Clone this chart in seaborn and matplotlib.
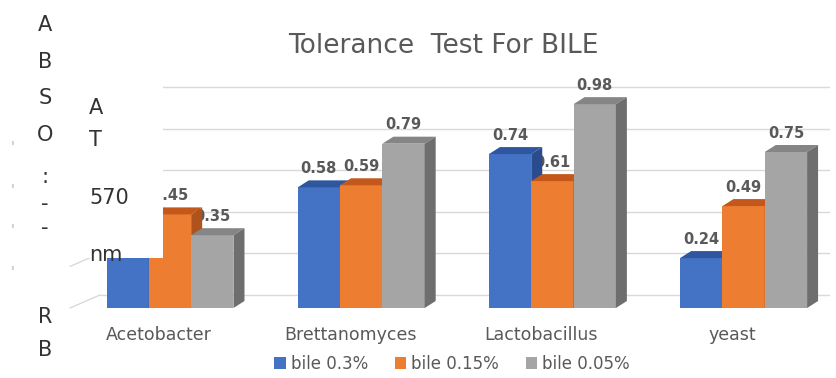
import matplotlib
matplotlib.use("Agg")
import matplotlib.pyplot as plt
import pandas as pd
import seaborn as sns
from matplotlib.patches import Polygon, Rectangle, Patch
from matplotlib.transforms import ScaledTranslation


ORGANISMS = ["Acetobacter", "Brettanomyces", "Lactobacillus", "yeast"]
SERIES = ["bile 0.3%", "bile 0.15%", "bile 0.05%"]
BILE_03 = [0.24, 0.58, 0.74, 0.24]
BILE_015 = [0.45, 0.59, 0.61, 0.49]
BILE_005 = [0.35, 0.79, 0.98, 0.75]
GRID_VALUES = [0.0, 0.2, 0.4, 0.6, 0.8, 1.0]

TITLE = "Tolerance  Test For BILE"
LEFT_LETTERS = ["A", "B", "S", "O", ":", "-", "-", "R", "B"]
UNIT_LINES = ["A", "T", "570", "nm"]

FRONT = ["#4472C4", "#ED7D31", "#A5A5A5"]
TOP = ["#2F579F", "#C4581A", "#858585"]
SIDE = ["#2A4C8E", "#B0521C", "#6E6E6E"]
TEXT = "#595959"

# figure geometry in pixels (837 x 378)
W, H = 837, 378
AX_L, AX_R, AX_B = 100, 830, 308
PX_PER_UNIT_Y = 208
YMAX = 1.1
GROUP_PX = 191.2
FIRST_GROUP_PX = 170
DEPTH_X, DEPTH_Y = 11, 7      # 3d bar depth
WALL_Y = 13                    # back wall lift

df = pd.DataFrame({
    "organism": ORGANISMS * 3,
    "series": [s for s in SERIES for _ in ORGANISMS],
    "value": BILE_03 + BILE_015 + BILE_005,
})

sns.set_style("white")
fig = plt.figure(figsize=(W / 100, H / 100), dpi=100)
ax_h = YMAX * PX_PER_UNIT_Y
ax = fig.add_axes([AX_L / W, (H - AX_B) / H, (AX_R - AX_L) / W, ax_h / H])

sns.barplot(
    data=df, x="organism", y="value", hue="series", order=ORGANISMS,
    hue_order=SERIES, palette=FRONT, saturation=1, width=0.664, gap=0,
    edgecolor="none", linewidth=0, legend=False, ax=ax,
)

x0 = -(FIRST_GROUP_PX - AX_L) / GROUP_PX
x1 = x0 + (AX_R - AX_L) / GROUP_PX
ax.set_xlim(x0, x1)
ax.set_ylim(0, YMAX)
px_x = (x1 - x0) / (AX_R - AX_L)
px_y = YMAX / ax_h

# back wall gridlines + left wall floor lines
for v in GRID_VALUES:
    ax.plot([x0, x1], [v + WALL_Y * px_y] * 2, color="#D9D9D9", lw=1, zorder=0.5)
    ax.plot([x0 - 30 * px_x, x0], [v, v + WALL_Y * px_y], color="#D9D9D9",
            lw=1, zorder=0.5, clip_on=False)

# 3d faces and value labels
for k, (cont, top_c, side_c) in enumerate(zip(ax.containers, TOP, SIDE)):
    for bar in cont:
        x, w, h = bar.get_x(), bar.get_width(), bar.get_height()
        z = 3 + k * 0.1
        bar.set_zorder(z)
        dx, dy = DEPTH_X * px_x, DEPTH_Y * px_y
        ax.add_patch(Polygon([(x, h), (x + w, h), (x + w + dx, h + dy), (x + dx, h + dy)],
                             closed=True, color=top_c, lw=0, zorder=z + 0.01))
        ax.add_patch(Polygon([(x + w, 0), (x + w, h), (x + w + dx, h + dy), (x + w + dx, dy)],
                             closed=True, color=side_c, lw=0, zorder=z + 0.01))
        ax.text(x + w / 2, h + 19 * px_y, f"{h:.2f}", ha="center", va="center",
                fontsize=10.5, fontweight="bold", color=TEXT, zorder=2)

sns.despine(ax=ax, left=True, bottom=True)
ax.set_xlabel("")
ax.set_ylabel("")
ax.set_yticks([])
ax.tick_params(axis="x", length=0, pad=13, labelsize=12.5, labelcolor=TEXT)
shift = ScaledTranslation(-11 / 100, 0, fig.dpi_scale_trans)
for lab in ax.get_xticklabels():
    lab.set_transform(lab.get_transform() + shift)

fig.text(443 / W, 1 - 46 / H, TITLE, ha="center", va="center", fontsize=19, color=TEXT)

handles = [Patch(facecolor=c, edgecolor="none", label=s) for c, s in zip(FRONT, SERIES)]
fig.legend(handles=handles, loc="center", bbox_to_anchor=(452 / W, 1 - 364 / H), ncol=3,
           frameon=False, fontsize=12, labelcolor=TEXT, handlelength=0.7,
           handleheight=0.7, handletextpad=0.3, columnspacing=1.6,
           borderpad=0.2)

# white box over the upper left corner with the axis note
fig.add_artist(Rectangle((0, 1 - 258 / H), 163 / W, 258 / H, transform=fig.transFigure,
                         facecolor="white", edgecolor="none", zorder=10))
for ch, y in zip(LEFT_LETTERS, [25, 62, 98, 135, 177, 204, 228, 317, 350]):
    fig.text(45 / W, 1 - y / H, ch, ha="center", va="center", fontsize=15,
             color="#333333", zorder=11)
for line, y in zip(UNIT_LINES, [108, 140, 198, 255]):
    fig.text(89 / W, 1 - y / H, line, ha="left", va="center", fontsize=15,
             color="#333333", zorder=11)
for y in [147, 190, 230, 272]:
    fig.text(13 / W, 1 - y / H, "'", ha="center", va="center", fontsize=10,
             color="#b0b0b0", zorder=11)

fig.savefig("out.png", dpi=100)
